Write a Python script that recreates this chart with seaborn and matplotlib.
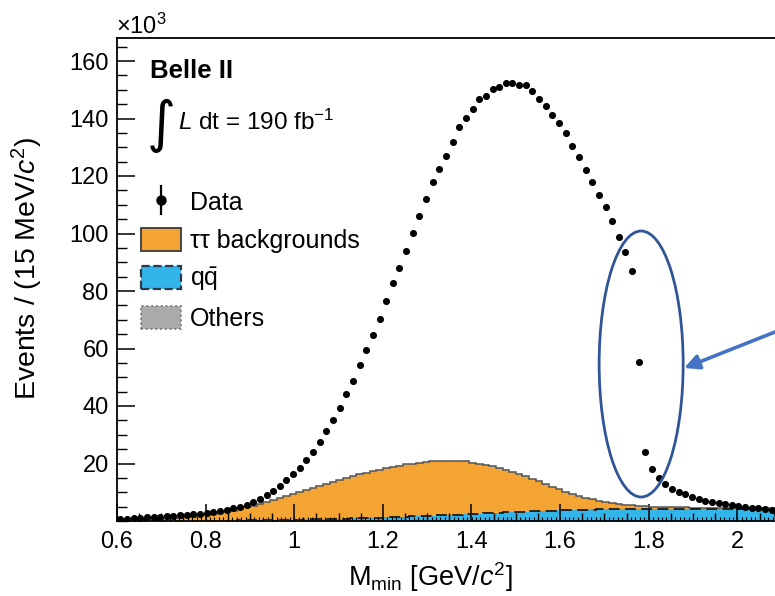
import numpy as np
import pandas as pd
import matplotlib
matplotlib.use("Agg")
import matplotlib.pyplot as plt
import seaborn as sns
from matplotlib.patches import Patch, Ellipse
from matplotlib.lines import Line2D
from matplotlib.legend_handler import HandlerTuple
from matplotlib.ticker import MultipleLocator, FixedLocator

# ---- binning: 15 MeV bins starting at 0.6 GeV ----
bin_lo = 0.6
bin_width = 0.015

# Data counts per bin (x10^3 events)
data_counts = [
    0.6, 0.8, 1.0, 1.15, 1.3, 1.4, 1.5, 1.7, 1.85, 2.0,
    2.2, 2.3, 2.55, 2.8, 3.0, 3.4, 3.8, 4.4, 5.0, 5.7,
    6.6, 7.6, 8.9, 10.5, 12.3, 14.3, 16.2, 18.5, 21.3, 24.1,
    27.6, 31.3, 35.1, 39.4, 44.2, 48.6, 54.2, 59.6, 64.8, 70.2,
    76.4, 82.7, 87.9, 93.9, 100.3, 106.2, 112.1, 117.9, 122.4, 127.0,
    131.9, 136.9, 140.3, 143.2, 146.9, 148.0, 150.3, 151.0, 152.4, 152.2,
    151.6, 151.5, 149.7, 146.7, 144.4, 141.2, 138.5, 134.8, 130.6, 126.7,
    122.2, 117.9, 113.5, 109.3, 104.4, 98.7, 93.7, 87.1, 55.3, 24.1,
    18.0, 14.8, 13.0, 11.1, 10.0, 9.3, 8.3, 7.5, 7.0, 6.5,
    6.2, 5.8, 5.5, 5.1, 4.9, 4.6, 4.4, 4.2, 3.9,
]

# tau-pair background expectation per bin (x10^3)
tautau_bkg = [
    0.20, 0.25, 0.29, 0.34, 0.44, 0.53, 0.63, 0.72, 0.87, 1.01,
    1.15, 1.34, 1.58, 1.82, 2.11, 2.50, 2.88, 3.36, 3.84, 4.42,
    4.93, 5.50, 6.17, 6.84, 7.50, 8.16, 8.82, 9.47, 10.12, 10.77,
    11.42, 12.07, 12.71, 13.35, 13.99, 14.53, 15.06, 15.59, 16.12, 16.55,
    16.88, 17.31, 17.63, 17.95, 18.17, 18.38, 18.59, 18.70, 18.71, 18.71,
    18.61, 18.41, 18.11, 17.61, 17.20, 16.69, 16.08, 15.37, 14.66, 13.85,
    12.95, 12.05, 11.06, 10.07, 8.99, 8.01, 7.04, 6.17, 5.31, 4.55,
    4.00, 3.35, 2.81, 2.37, 1.93, 1.60, 1.27, 1.05, 0.83, 0.66,
    0.54, 0.43, 0.37, 0.31, 0.25, 0.25, 0.19, 0.19, 0.13, 0.13,
    0.13, 0.12, 0.07, 0.07, 0.07, 0.06, 0.06, 0.02, 0.02,
]

# continuum q-qbar expectation per bin (x10^3)
qqbar_bkg = [
    0.02, 0.02, 0.03, 0.03, 0.03, 0.04, 0.04, 0.05, 0.05, 0.06,
    0.07, 0.08, 0.09, 0.10, 0.11, 0.12, 0.14, 0.16, 0.18, 0.20,
    0.22, 0.25, 0.28, 0.31, 0.35, 0.39, 0.43, 0.48, 0.53, 0.58,
    0.63, 0.68, 0.74, 0.80, 0.86, 0.92, 0.99, 1.06, 1.13, 1.20,
    1.27, 1.34, 1.42, 1.50, 1.58, 1.67, 1.76, 1.85, 1.94, 2.04,
    2.14, 2.24, 2.34, 2.44, 2.55, 2.66, 2.77, 2.88, 2.99, 3.10,
    3.20, 3.30, 3.39, 3.48, 3.56, 3.64, 3.71, 3.78, 3.84, 3.90,
    3.95, 4.00, 4.04, 4.08, 4.12, 4.15, 4.18, 4.20, 4.22, 4.24,
    4.26, 4.27, 4.28, 4.29, 4.30, 4.30, 4.31, 4.31, 4.32, 4.32,
    4.32, 4.33, 4.33, 4.33, 4.33, 4.34, 4.34, 4.34, 4.34,
]

# other small backgrounds per bin (x10^3)
others_bkg = [0.08] * 20 + [0.15] * 20 + [0.25] * 30 + [0.15] * 29

x_ticks = [0.6, 0.8, 1.0, 1.2, 1.4, 1.6, 1.8, 2.0]
x_tick_labels = ["0.6", "0.8", "1", "1.2", "1.4", "1.6", "1.8", "2"]
y_ticks = [20, 40, 60, 80, 100, 120, 140, 160]

n_bins = len(data_counts)
edges = bin_lo + bin_width * np.arange(n_bins + 1)
centers = 0.5 * (edges[:-1] + edges[1:])

# ---- style ----
sns.set_theme(style="ticks")
plt.rcParams["font.family"] = ["Liberation Sans", "DejaVu Sans"]
plt.rcParams["mathtext.fontset"] = "custom"
plt.rcParams["mathtext.rm"] = "Liberation Sans"
plt.rcParams["mathtext.it"] = "Liberation Sans:italic"
plt.rcParams["mathtext.bf"] = "Liberation Sans:bold"
for key in ("text.color", "axes.labelcolor", "xtick.color", "ytick.color",
            "axes.edgecolor"):
    plt.rcParams[key] = "black"

c_tau = "#F4A433"
c_qq = "#34B5EA"
c_oth = "#AAAAAA"

fig = plt.figure(figsize=(7.75, 5.96), dpi=100)
W, H = 775.0, 596.0
ax = fig.add_axes([117 / W, 75 / H, 709 / W, 483 / H])

# stacked MC templates
mc = pd.DataFrame({
    "x": np.concatenate([centers] * 3),
    "w": np.concatenate([others_bkg, tautau_bkg, qqbar_bkg]),
    "comp": ["Others"] * n_bins + ["tautau"] * n_bins + ["qqbar"] * n_bins,
})
sns.histplot(data=mc, x="x", weights="w", hue="comp",
             hue_order=["Others", "tautau", "qqbar"],
             bins=n_bins, binrange=(float(edges[0]), float(edges[-1])),
             multiple="stack", element="step", fill=True, alpha=1.0,
             linewidth=0, palette={"Others": c_oth, "tautau": c_tau, "qqbar": c_qq},
             legend=False, ax=ax)

qq_top = np.asarray(qqbar_bkg)
tau_top = qq_top + np.asarray(tautau_bkg)
all_top = tau_top + np.asarray(others_bkg)
ax.stairs(all_top, edges, color="#555555", lw=1.1, zorder=3)
ax.stairs(qq_top, edges, color="#1a1a1a", lw=1.3, ls=(0, (6, 3)), zorder=3)

# data points
sns.scatterplot(x=centers, y=data_counts, color="black", s=26, linewidth=0,
                zorder=5, legend=False, ax=ax)

ax.set_xlim(0.6, 2.2)
ax.set_ylim(0, 168)
ax.xaxis.set_major_locator(FixedLocator(x_ticks))
ax.set_xticklabels(x_tick_labels)
ax.xaxis.set_minor_locator(MultipleLocator(0.05))
ax.yaxis.set_major_locator(FixedLocator(y_ticks))
ax.yaxis.set_minor_locator(MultipleLocator(5))
ax.tick_params(axis="x", which="major", direction="in", length=12, width=1.1,
               labelsize=17, pad=7)
ax.tick_params(axis="x", which="minor", direction="in", length=6, width=1.0)
ax.tick_params(axis="y", which="major", direction="in", length=13, width=1.1,
               labelsize=17, pad=6)
ax.tick_params(axis="y", which="minor", direction="in", length=7, width=1.0)
for s in ax.spines.values():
    s.set_linewidth(1.3)
ax.set_axisbelow(False)

# fine 10 MeV ticks along the bottom axis
tw = ax.twiny()
tw.set_xlim(ax.get_xlim())
tw.xaxis.set_ticks_position("bottom")
tw.set_xticks(np.arange(0.6, 2.2001, 0.01))
tw.tick_params(axis="x", direction="in", length=3, width=0.8,
               labelbottom=False, labeltop=False)
for s in tw.spines.values():
    s.set_visible(False)

ax.set_xlabel(r"M$_{\mathregular{min}}$ [GeV/$\mathit{c}^{\mathregular{2}}$]", fontsize=19.5)
ax.set_ylabel(r"Events / (15 MeV/$\mathit{c}^{\mathregular{2}}$)", fontsize=20.5)
ax.xaxis.set_label_coords((430 - 117) / 709, -(560 - 521) / 483)
ax.yaxis.set_label_coords((45 - 117) / 709, (521 - 268) / 483)

# axis multiplier and experiment labels
fig.text(116 / W, 1 - 34 / H, r"×10$^{\mathregular{3}}$", fontsize=17, va="baseline")
fig.text(150 / W, 1 - 78 / H, "Belle II", fontsize=18.5, fontweight="bold", va="baseline")
fig.text(147 / W, 1 - 153 / H, "∫", fontsize=40, family="DejaVu Sans", va="bottom")
fig.text(178 / W, 1 - 130 / H, r"$\mathit{L}$ dt = 190 fb$^{\mathregular{-1}}$",
         fontsize=17.5, va="baseline")

# legend
h_data = (Line2D([], [], marker="o", color="black", ls="none", ms=6.5),
          Line2D([], [], marker="|", color="black", ls="none", ms=22, mew=1.6))
handles = [
    h_data,
    Patch(facecolor=c_tau, edgecolor="#3a3a3a", lw=1.3),
    Patch(facecolor=c_qq, edgecolor="#2b3b4b", lw=1.6, ls="--"),
    Patch(facecolor=c_oth, edgecolor="#777777", lw=1.3, ls=":"),
]
labels = ["Data", "ττ backgrounds", r"$\mathregular{q\bar{q}}$", "Others"]
fig.legend(handles, labels, loc="upper left",
           bbox_to_anchor=(141 / W, 1 - 190 / H), bbox_transform=fig.transFigure,
           frameon=False, fontsize=18, handlelength=1.6, handleheight=1.04,
           handletextpad=0.36, labelspacing=0.51, borderpad=0, borderaxespad=0,
           handler_map={tuple: HandlerTuple(ndivide=1)})

# highlight around the tau-mass bins
ax.add_patch(Ellipse((0.6 + (641 - 117) / 443, (521 - 364) / 2.875),
                     width=84 / 443, height=266 / 2.875, fill=False,
                     edgecolor="#2F5597", lw=2.0, zorder=6))
ax.annotate("", xy=(0.6 + (684 - 117) / 443, (521 - 368) / 2.875),
            xytext=(0.6 + (800 - 117) / 443, (521 - 322) / 2.875),
            arrowprops=dict(arrowstyle="-|>", color="#4472C4", lw=2.6,
                            mutation_scale=22, shrinkA=0, shrinkB=0),
            annotation_clip=False, zorder=6)

fig.savefig("out.png", dpi=100)
